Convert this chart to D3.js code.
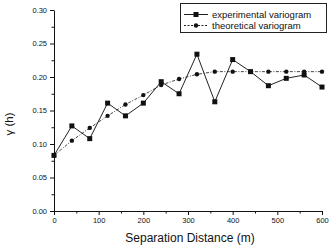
<!DOCTYPE html>
<html>
<head>
<meta charset="utf-8">
<script src="https://cdn.jsdelivr.net/npm/d3@7"></script>
<style>
    body { margin: 0; background: #fff; }
    text { font-family: "Liberation Sans", Arial, sans-serif; fill: #111; }
</style>
</head>
<body>
<script>
//execute script when window is loaded
window.onload = function(){

    //SVG dimension variables
    var w = 329, h = 249;

    //lag distances (m)
    var distances = [0, 40, 80, 120, 160, 200, 240, 280, 320, 360, 400, 440, 480, 520, 560, 600];
    //experimental variogram values
    var experimental = [0.083, 0.127, 0.108, 0.161, 0.142, 0.161, 0.193, 0.175, 0.234, 0.163, 0.226, 0.208, 0.187, 0.198, 0.203, 0.185];
    //theoretical (model) variogram values
    var theoretical = [0.083, 0.105, 0.124, 0.142, 0.159, 0.173, 0.188, 0.197, 0.204, 0.208, 0.208, 0.208, 0.208, 0.208, 0.208, 0.208];

    var xTicks = [0, 100, 200, 300, 400, 500, 600];
    var yTicks = [0.00, 0.05, 0.10, 0.15, 0.20, 0.25, 0.30];
    var legendLabels = ["experimental variogram", "theoretical variogram"];

    var svg = d3.select("body")
        .append("svg")
        .attr("width", w)
        .attr("height", h);

    var x = d3.scaleLinear()
        .domain([0, 600])
        .range([54, 322]);

    var y = d3.scaleLinear()
        .domain([0, 0.30])
        .range([211, 10]);

    //minor ticks first so major ticks sit on top
    svg.append("g")
        .attr("transform", "translate(0,211)")
        .call(d3.axisBottom(x).tickValues(d3.range(50, 600, 100)).tickSize(2.5).tickFormat(""))
        .call(function(g){ g.select(".domain").remove(); });

    svg.append("g")
        .attr("transform", "translate(54,0)")
        .call(d3.axisLeft(y).tickValues(d3.range(0.025, 0.3, 0.05)).tickSize(2.5).tickFormat(""))
        .call(function(g){ g.select(".domain").remove(); });

    //x axis
    svg.append("g")
        .attr("class", "axis")
        .attr("transform", "translate(0,211)")
        .call(d3.axisBottom(x).tickValues(xTicks).tickSize(4).tickSizeOuter(0).tickPadding(3));

    //y axis
    svg.append("g")
        .attr("class", "axis")
        .attr("transform", "translate(54,0)")
        .call(d3.axisLeft(y).tickValues(yTicks).tickSize(4).tickSizeOuter(0).tickPadding(3)
            .tickFormat(d3.format(".2f")));

    svg.selectAll(".axis text")
        .style("font-size", "7.5px")
        .style("font-family", "'Liberation Sans', Arial, sans-serif");

    svg.selectAll(".tick line, .domain")
        .attr("stroke", "#111");

    //axis titles
    svg.append("text")
        .attr("x", 190)
        .attr("y", 242)
        .attr("text-anchor", "middle")
        .style("font-size", "12px")
        .text("Separation Distance (m)");

    svg.append("text")
        .attr("transform", "translate(13,124) rotate(-90)")
        .attr("text-anchor", "middle")
        .style("font-size", "11.5px")
        .text("γ (h)");

    //line generator
    var line = d3.line()
        .x(function(d){ return x(d[0]); })
        .y(function(d){ return y(d[1]); });

    var expData = d3.zip(distances, experimental);
    var theoData = d3.zip(distances, theoretical);

    svg.append("path")
        .datum(theoData)
        .attr("d", line)
        .attr("fill", "none")
        .attr("stroke", "#333")
        .attr("stroke-width", 0.9)
        .attr("stroke-dasharray", "3,1.5,1,1.5");

    svg.append("path")
        .datum(expData)
        .attr("d", line)
        .attr("fill", "none")
        .attr("stroke", "#222")
        .attr("stroke-width", 1);

    svg.selectAll(".theo")
        .data(theoData)
        .enter()
        .append("circle")
        .attr("class", "theo")
        .attr("cx", function(d){ return x(d[0]); })
        .attr("cy", function(d){ return y(d[1]); })
        .attr("r", 2.2)
        .attr("fill", "#111");

    svg.selectAll(".exp")
        .data(expData)
        .enter()
        .append("rect")
        .attr("class", "exp")
        .attr("x", function(d){ return x(d[0]) - 2.5; })
        .attr("y", function(d){ return y(d[1]) - 2.5; })
        .attr("width", 5)
        .attr("height", 5)
        .attr("fill", "#111");

    //legend
    var legend = svg.append("g");

    legend.append("rect")
        .attr("x", 180.5)
        .attr("y", 3.5)
        .attr("width", 146)
        .attr("height", 29)
        .attr("fill", "#fff")
        .attr("stroke", "#222")
        .attr("stroke-width", 1);

    var items = legend.selectAll(".item")
        .data(legendLabels)
        .enter()
        .append("g")
        .attr("class", "item")
        .attr("transform", function(d, i){ return "translate(0," + (14.5 + i * 11) + ")"; });

    items.append("line")
        .attr("x1", 184)
        .attr("x2", 208)
        .attr("stroke", "#222")
        .attr("stroke-width", 1)
        .attr("stroke-dasharray", function(d, i){ return i === 0 ? null : "2,1.5"; });

    //square marker for experimental, circle for theoretical
    items.filter(function(d, i){ return i === 0; })
        .append("rect")
        .attr("x", 193.5)
        .attr("y", -2.5)
        .attr("width", 5)
        .attr("height", 5)
        .attr("fill", "#111");

    items.filter(function(d, i){ return i === 1; })
        .append("circle")
        .attr("cx", 196)
        .attr("r", 2.2)
        .attr("fill", "#111");

    items.append("text")
        .attr("x", 212)
        .attr("dy", "0.35em")
        .style("font-size", "9.5px")
        .text(function(d){ return d; });
};
</script>
</body>
</html>
